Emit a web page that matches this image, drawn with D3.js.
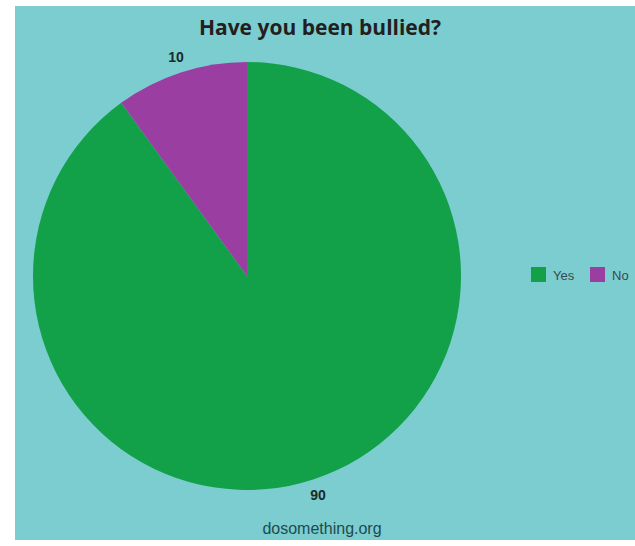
<!DOCTYPE html>
<html><head><meta charset="utf-8">
<script src="https://cdn.jsdelivr.net/npm/d3@7/dist/d3.min.js"></script>
<style>body{margin:0;background:#fff;}svg{display:block;}</style>
</head><body>
<svg id="c" width="635" height="546"></svg>
<script>
const categories = ["Yes", "No"];
const values = [90, 10];
const colors = ["#12a048", "#9a3ea2"];
const title = "Have  you been bullied?";
const source = "dosomething.org";

const svg = d3.select("#c");
svg.append("rect").attr("x",15).attr("y",6).attr("width",620).attr("height",534).attr("fill","#7bcdd0");

svg.append("text").attr("x",320).attr("y",35).attr("text-anchor","middle")
  .attr("font-family","Open Sans, sans-serif").attr("font-weight","bold").attr("font-size",21)
  .attr("fill","#231f20").text(title);

const cx = 247, cy = 276, r = 214;
const pie = d3.pie().sort(null).value(d=>d)(values);
const arc = d3.arc().innerRadius(0).outerRadius(r);
const labelArc = d3.arc().innerRadius(r+16).outerRadius(r+16);
const g = svg.append("g").attr("transform",`translate(${cx},${cy})`);
g.selectAll("path").data(pie).join("path").attr("d",arc).attr("fill",(d,i)=>colors[i]);
g.selectAll("text").data(pie).join("text")
  .attr("transform",d=>`translate(${labelArc.centroid(d)})`)
  .attr("text-anchor","middle").attr("dy","0.35em")
  .attr("font-family","Liberation Sans, Arial, sans-serif").attr("font-weight","bold").attr("font-size",14)
  .attr("fill","#1a2a2a").text(d=>d.data);

const leg = svg.append("g");
const legX = [531, 590];
categories.forEach((c,i)=>{
  leg.append("rect").attr("x",legX[i]).attr("y",267).attr("width",15).attr("height",15).attr("fill",colors[i]);
  leg.append("text").attr("x",legX[i]+22).attr("y",280)
    .attr("font-family","Liberation Sans, Arial, sans-serif").attr("font-size",13).attr("fill","#3a4a4c").text(c);
});

svg.append("text").attr("x",322).attr("y",534).attr("text-anchor","middle")
  .attr("font-family","Liberation Sans, Arial, sans-serif").attr("font-size",16)
  .attr("fill","#1f4a4d").text(source);
</script>
</body></html>
